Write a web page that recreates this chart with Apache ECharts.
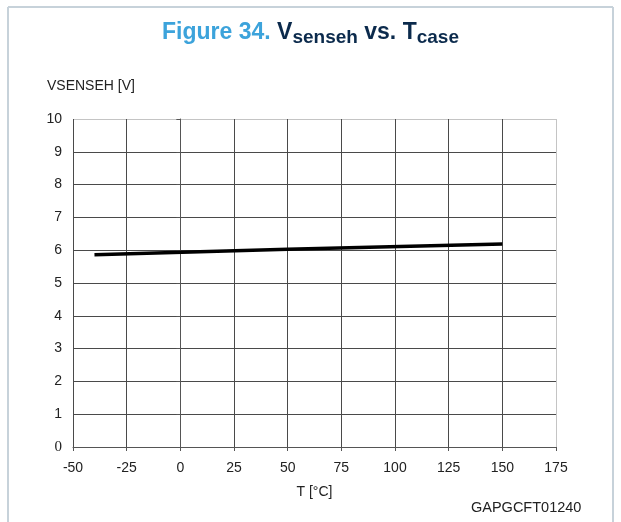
<!DOCTYPE html>
<html>
<head>
<meta charset="utf-8">
<style>
  html, body { margin: 0; padding: 0; background: #fff; }
  #chart { width: 621px; height: 522px; }
</style>
<script src="https://cdn.jsdelivr.net/npm/echarts@6/dist/echarts.min.js"></script>
</head>
<body>
<div id="chart"></div>
<script>
// Case temperature (°C) and sense voltage (V)
var tCase = [-40, 50, 150];
var vSenseh = [5.86, 6.03, 6.19];

// Axis ranges and tick steps
var xMin = -50, xMax = 175, xStep = 25;
var yMin = 0, yMax = 10, yStep = 1;

var gridDark = '#4a4a4a';
var gridLight = '#c4c4c4';
var font = 'Liberation Sans, Arial, sans-serif';

// Split line colours: last line (plot border) is lighter
function splitColors(count) {
  var arr = [];
  for (var i = 0; i < count; i++) arr.push(i === count - 1 ? gridLight : gridDark);
  return arr;
}

var seriesData = tCase.map(function (t, i) { return [t, vSenseh[i]]; });

var chart = echarts.init(document.getElementById('chart'), null, { renderer: 'canvas' });
chart.setOption({
  backgroundColor: '#ffffff',
  animation: false,
  title: {
    text: '{fig|Figure 34. }{main|V}{sub|senseh}{main| vs. T}{sub|case}',
    left: 'center',
    top: 14,
    textStyle: {
      rich: {
        fig: { fontFamily: font, fontSize: 23, fontWeight: 'bold', color: '#3ca3db' },
        main: { fontFamily: font, fontSize: 23, fontWeight: 'bold', color: '#0b2a4c' },
        sub: { fontFamily: font, fontSize: 19, fontWeight: 'bold', color: '#0b2a4c', padding: [9, 0, 0, 0] }
      }
    }
  },
  grid: { left: 73, right: 65, top: 119, bottom: 75, containLabel: false },
  xAxis: {
    type: 'value',
    min: xMin, max: xMax, interval: xStep,
    name: 'T [°C]',
    nameLocation: 'middle',
    nameGap: 38,
    nameTextStyle: { fontFamily: font, fontSize: 14, color: '#222' },
    axisLine: { show: true, lineStyle: { color: '#555', width: 1 } },
    axisTick: { show: true, length: 4, lineStyle: { color: '#555' } },
    axisLabel: { fontFamily: font, fontSize: 14, color: '#222', margin: 14 },
    splitLine: { show: true, lineStyle: { color: splitColors((xMax - xMin) / xStep + 1), width: 1 } }
  },
  yAxis: {
    type: 'value',
    min: yMin, max: yMax, interval: yStep,
    axisLine: { show: true, lineStyle: { color: '#555', width: 1 } },
    axisTick: { show: true, length: 4, lineStyle: { color: '#555' } },
    axisLabel: {
      fontFamily: font, fontSize: 14, color: '#222', margin: 11,
      formatter: function (v) { return v === 0 ? '{zero|0}' : String(v); },
      rich: { zero: { fontFamily: 'Liberation Serif, Times New Roman, serif', fontSize: 15, color: '#222' } }
    },
    splitLine: { show: true, lineStyle: { color: splitColors((yMax - yMin) / yStep + 1), width: 1 } }
  },
  series: [{
    type: 'line',
    data: seriesData,
    showSymbol: false,
    lineStyle: { color: '#000', width: 3.5 },
    z: 5
  }],
  graphic: [
    // Outer frame (top, left, right edges)
    { type: 'line', shape: { x1: 8, y1: 7, x2: 613, y2: 7 }, style: { stroke: '#c7d2da', lineWidth: 2 } },
    { type: 'line', shape: { x1: 8, y1: 7, x2: 8, y2: 522 }, style: { stroke: '#c7d2da', lineWidth: 2 } },
    { type: 'line', shape: { x1: 613, y1: 7, x2: 613, y2: 522 }, style: { stroke: '#c7d2da', lineWidth: 2 } },
    // Y axis title
    { type: 'text', left: 47, top: 79, style: { text: 'VSENSEH [V]', font: '14px "Liberation Sans", Arial, sans-serif', fill: '#222' } },
    { type: 'text', left: 471, top: 500, style: { text: 'GAPGCFT01240', font: '14.5px "Liberation Sans", Arial, sans-serif', fill: '#222' } }
  ]
});
</script>
</body>
</html>
